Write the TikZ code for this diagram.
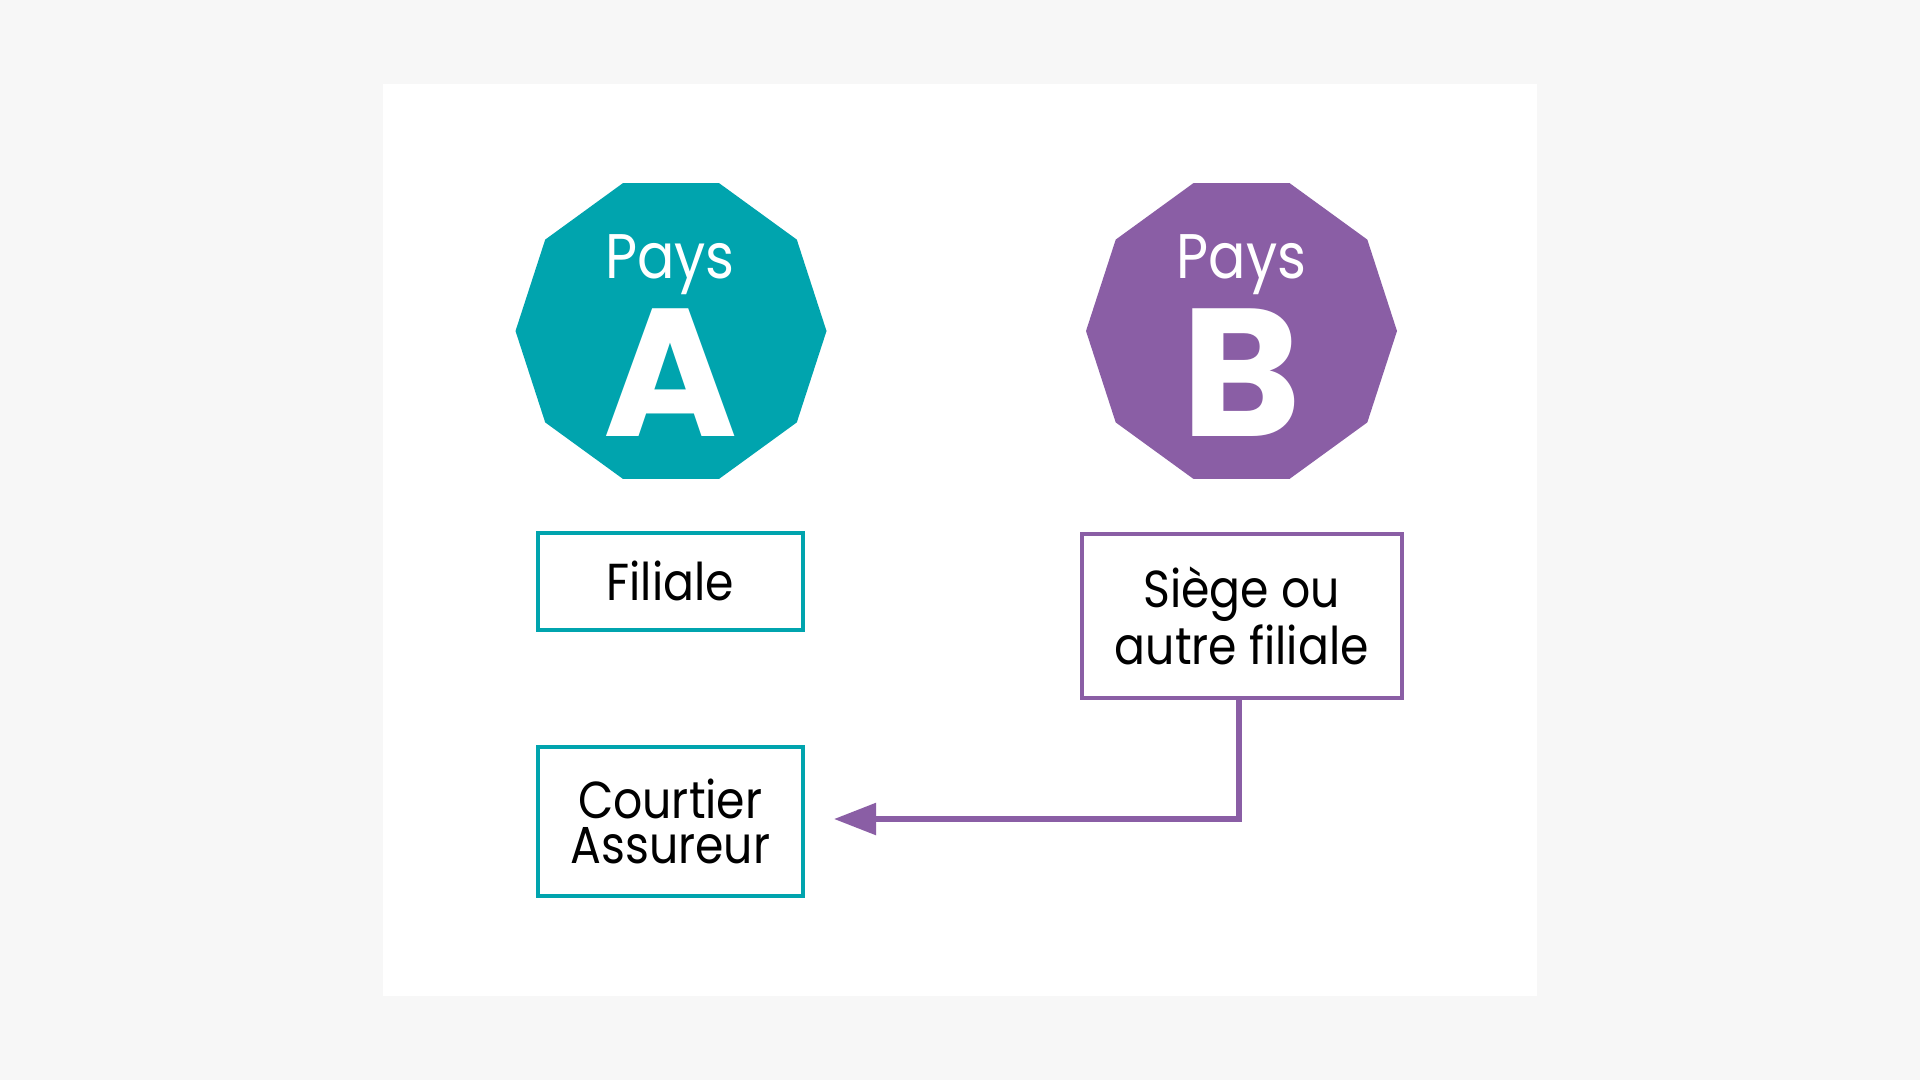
\documentclass[tikz,border=0pt]{standalone}
\usepackage{fontspec}
\setmainfont{Poppins}
\newfontfamily\bodyfont{Poppins}[FakeStretch=0.88]
\newfontfamily\bigfont{Poppins Bold}
\usetikzlibrary{shapes.geometric,arrows.meta}
\definecolor{tealc}{RGB}{0,164,174}
\definecolor{purp}{RGB}{138,94,165}
\definecolor{bgc}{RGB}{247,247,247}
\begin{document}
\begin{tikzpicture}[x=1pt,y=-1pt,
  deca/.style={regular polygon, regular polygon sides=10, minimum size=311pt,
    inner sep=0pt, outer sep=0pt, draw=none},
  paystxt/.style={text=white, anchor=base, inner sep=0pt, font=\bodyfont\fontsize{63}{63}\selectfont},
  lettxt/.style={text=white, anchor=base, inner sep=0pt, font=\bigfont\fontsize{182}{182}\selectfont},
  boxnode/.style={draw, line width=4pt, inner sep=0pt, outer sep=0pt, text=black, align=center},
  link/.style={draw=purp, line width=5.5pt, -{Triangle[length=42pt,width=31pt]}}
]
\fill[bgc] (0,0) rectangle (1920,1080);
\useasboundingbox (0,0) rectangle (1920,1080);
\fill[white] (383,84) rectangle (1537,996);

\node[deca, fill=tealc] (decA) at (671,331) {};
\node[deca, fill=purp] (decB) at (1241.5,331) {};
\node[paystxt] (paysA) at (670,278) {Pays};
\node[paystxt] (paysB) at (1241.5,278) {Pays};
\node[lettxt] (letA) at (671,436) {A};
\node[lettxt] (letB) at (1241.5,436) {B};

\node[boxnode, draw=tealc, minimum width=264.5pt, minimum height=97pt,
  text height=37pt, text depth=0pt,
  font=\bodyfont\fontsize{52}{52}\selectfont] (filiale) at (670.25,581.5) {Filiale};
\node[boxnode, draw=purp, minimum width=319.5pt, minimum height=164.5pt,
  font=\bodyfont\fontsize{52}{57}\selectfont] (siege) at (1241.75,616) {Siège ou\\autre filiale};
\node[boxnode, draw=tealc, minimum width=264.5pt, minimum height=149pt,
  font=\bodyfont\fontsize{52}{45}\selectfont] (courtier) at (670.25,821) {Courtier\\Assureur};

\coordinate (tip) at (834,819);
\draw[link] (siege.south -| 1239,0) |- (tip);
\end{tikzpicture}
\end{document}
